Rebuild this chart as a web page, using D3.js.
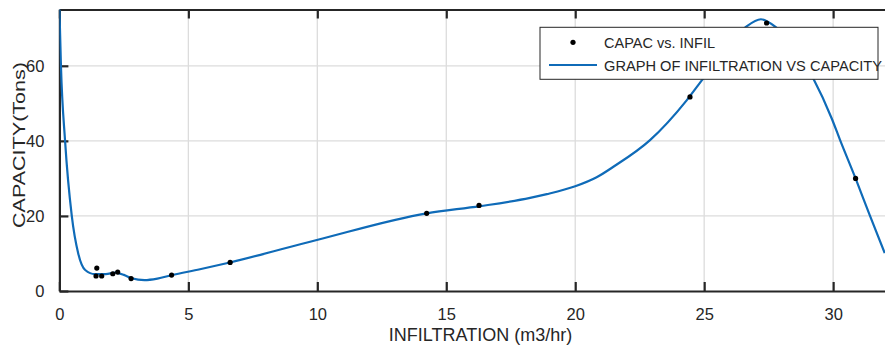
<!DOCTYPE html>
<html>
<head>
<meta charset="utf-8">
<script src="https://cdn.jsdelivr.net/npm/d3@7"></script>
<style>
  body { margin: 0; background: #fff; }
  text { font-family: "Liberation Sans", Arial, sans-serif; fill: #262626; }
</style>
</head>
<body>
<div id="chart"></div>
<script>
// measured points
var infil = [1.42, 1.45, 1.64, 2.07, 2.26, 2.78, 4.35, 6.62, 14.24, 16.27, 24.45, 27.42, 30.87];
var capac = [4.0, 6.1, 4.0, 4.6, 5.05, 3.3, 4.25, 7.6, 20.7, 22.8, 51.7, 71.4, 30.0];

// fitted curve
var fitX = [0, 0.06, 0.22, 0.48, 0.73, 1.0, 1.38, 1.8, 2.16, 2.5, 2.8, 3.3, 3.8, 4.35, 5.45, 6.61,
  9.98, 14.24, 16.31, 18.25, 18.9, 20.0, 20.83, 21.48, 22.9, 24.32, 24.96, 26.57, 27.2,
  27.81, 29.23, 29.95, 30.27, 30.87, 31.43, 32.0];
var fitY = [75.5, 60, 40, 20, 10, 5.6, 4.5, 4.5, 4.9, 4.3, 3.4, 2.9, 3.3, 4.2, 5.8, 7.6,
  13.6, 20.7, 22.6, 24.8, 25.8, 27.9, 30.3, 33.1, 40.2, 50.8, 56.6, 70.1, 72.4,
  70.1, 56.6, 45.9, 40.2, 30.0, 20.0, 10.1];

var xTicks = [0, 5, 10, 15, 20, 25, 30];
var yTicks = [0, 20, 40, 60];

var legendLabels = ["CAPAC vs. INFIL", "GRAPH OF INFILTRATION VS CAPACITY"];

var svgWidth = 885;
var svgHeight = 350;

// plot box (right side runs past the picture edge)
var plotL = 59.4, plotT = 9.5, plotR = 902, plotB = 291;

var svg = d3.select("#chart")
  .append("svg")
  .attr("width", svgWidth)
  .attr("height", svgHeight);

var xScale = d3.scaleLinear()
  .domain([0, 32.67])
  .range([plotL, plotR]);

var yScale = d3.scaleLinear()
  .domain([0, 75])
  .range([plotB, plotT]);

svg.append("defs").append("clipPath")
  .attr("id", "plotclip")
  .append("rect")
  .attr("x", plotL).attr("y", plotT)
  .attr("width", plotR - plotL).attr("height", plotB - plotT);

// grid
svg.append("g")
  .selectAll("line")
  .data(xTicks.slice(1))
  .enter()
  .append("line")
  .attr("x1", d => xScale(d)).attr("x2", d => xScale(d))
  .attr("y1", plotT).attr("y2", plotB)
  .attr("stroke", "#dcdcdc")
  .attr("stroke-width", 1.3);

svg.append("g")
  .selectAll("line")
  .data(yTicks.slice(1))
  .enter()
  .append("line")
  .attr("x1", plotL).attr("x2", plotR)
  .attr("y1", d => yScale(d)).attr("y2", d => yScale(d))
  .attr("stroke", "#dcdcdc")
  .attr("stroke-width", 1.3);

// axes (ticks pointing inward, like matlab)
var bottomAxis = d3.axisBottom(xScale).tickValues(xTicks).tickSizeInner(-9).tickSizeOuter(0).tickPadding(17);
var topAxis = d3.axisTop(xScale).tickValues(xTicks).tickSizeInner(-9).tickSizeOuter(0).tickFormat("");
var leftAxis = d3.axisLeft(yScale).tickValues(yTicks).tickSizeInner(-9).tickSizeOuter(0).tickPadding(15);

function styleAxis(g) {
  g.select(".domain").attr("stroke", "#262626").attr("stroke-width", 2.2);
  g.selectAll(".tick line").attr("stroke", "#262626").attr("stroke-width", 2.2);
  g.selectAll(".tick text")
    .attr("fill", "#262626")
    .style("font-size", "16.5px")
    .style("font-family", "'Liberation Sans Narrow', 'Liberation Sans', Arial, sans-serif");
}

svg.append("g")
  .attr("transform", `translate(0, ${plotB})`)
  .call(bottomAxis)
  .call(styleAxis);

svg.append("g")
  .attr("transform", `translate(0, ${plotT})`)
  .call(topAxis)
  .call(styleAxis);

svg.append("g")
  .attr("transform", `translate(${plotL}, 0)`)
  .call(leftAxis)
  .call(styleAxis);

// fitted curve
var line = d3.line()
  .x((d, i) => xScale(fitX[i]))
  .y(d => yScale(d))
  .curve(d3.curveMonotoneX);

svg.append("path")
  .datum(fitY)
  .attr("clip-path", "url(#plotclip)")
  .attr("d", line)
  .attr("fill", "none")
  .attr("stroke", "#0f6bb8")
  .attr("stroke-width", 2.2);

// data dots
svg.append("g")
  .selectAll("circle")
  .data(capac)
  .enter()
  .append("circle")
  .attr("cx", (d, i) => xScale(infil[i]))
  .attr("cy", d => yScale(d))
  .attr("r", 2.6)
  .attr("fill", "#000");

// legend
var legend = svg.append("g");
legend.append("rect")
  .attr("x", 540).attr("y", 27.3)
  .attr("width", 338).attr("height", 52)
  .attr("fill", "#fff")
  .attr("stroke", "#262626")
  .attr("stroke-width", 1);

legend.append("circle")
  .attr("cx", 573).attr("cy", 42.3).attr("r", 2.6)
  .attr("fill", "#000");

legend.append("line")
  .attr("x1", 549).attr("x2", 597)
  .attr("y1", 65).attr("y2", 65)
  .attr("stroke", "#0f6bb8")
  .attr("stroke-width", 2.2);

legend.append("text")
  .attr("x", 604).attr("y", 47.5)
  .style("font-size", "15px")
  .attr("textLength", 111)
  .attr("lengthAdjust", "spacingAndGlyphs")
  .text(legendLabels[0]);

legend.append("text")
  .attr("x", 604).attr("y", 70.5)
  .style("font-size", "15px")
  .attr("textLength", 278)
  .attr("lengthAdjust", "spacingAndGlyphs")
  .text(legendLabels[1]);

// axis labels
svg.append("text")
  .attr("transform", "rotate(-90)")
  .attr("x", -145)
  .attr("y", 25)
  .attr("text-anchor", "middle")
  .style("font-size", "17px")
  .attr("textLength", 166)
  .attr("lengthAdjust", "spacingAndGlyphs")
  .text("CAPACITY(Tons)");

svg.append("text")
  .attr("x", 480.5)
  .attr("y", 341)
  .attr("text-anchor", "middle")
  .style("font-size", "18px")
  .text("INFILTRATION (m3/hr)");
</script>
</body>
</html>
